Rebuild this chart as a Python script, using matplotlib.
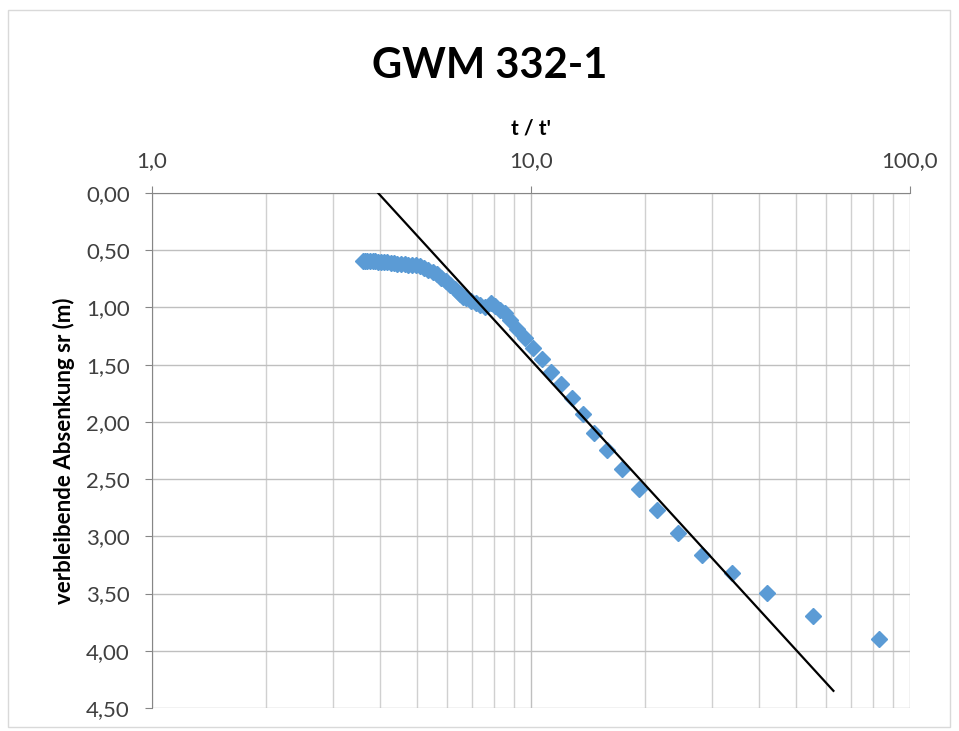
import matplotlib.pyplot as plt
from matplotlib.patches import Rectangle
from matplotlib.ticker import FixedLocator, LogLocator, NullFormatter

plt.rcParams['font.family'] = ['Lato', 'DejaVu Sans']

# t/t' and residual drawdown sr (m)
tt = [3.60, 3.65, 3.70, 3.76, 3.82, 3.88, 3.95, 4.02, 4.10, 4.18, 4.26,
      4.35, 4.44, 4.54, 4.64, 4.75, 4.86, 4.98, 5.10, 5.23, 5.36, 5.50,
      5.64, 5.79, 5.95, 6.12, 6.30, 6.48, 6.60, 6.75, 6.95, 7.15, 7.35,
      7.55, 7.85, 8.05, 8.30, 8.54, 8.81, 9.17, 9.65, 10.14, 10.67, 11.3,
      12.0, 12.8, 13.7, 14.7, 15.9, 17.4, 19.3, 21.5, 24.4, 28.2, 33.9,
      42.0, 55.6, 82.8]
sr = [0.59, 0.59, 0.59, 0.59, 0.59, 0.595, 0.60, 0.60, 0.60, 0.605, 0.61,
      0.615, 0.62, 0.62, 0.62, 0.625, 0.625, 0.63, 0.64, 0.655, 0.67, 0.69,
      0.71, 0.74, 0.77, 0.80, 0.84, 0.88, 0.91, 0.92, 0.94, 0.96, 0.98,
      1.00, 0.96, 0.99, 1.02, 1.05, 1.11, 1.19, 1.27, 1.357, 1.451, 1.561,
      1.669, 1.794, 1.931, 2.095, 2.246, 2.412, 2.587, 2.770, 2.974, 3.163, 3.318,
      3.498, 3.696, 3.895]

# straight-line fit
line_x = [3.95, 62.8]
line_y = [0.0, 4.35]

ytick_vals = [0.0, 0.5, 1.0, 1.5, 2.0, 2.5, 3.0, 3.5, 4.0, 4.5]
xtick_vals = [1, 10, 100]

fig = plt.figure(figsize=(9.59, 7.31), dpi=100)
fig.patches.append(Rectangle((8/959, 0.005), 942/959, 0.982, transform=fig.transFigure,
                             fill=False, edgecolor='#d9d9d9', lw=1))
ax = fig.add_axes([152/959, 23/731, 758/959, 515/731])

ax.set_xscale('log')
ax.set_xlim(1, 100)
ax.set_ylim(4.5, 0)

ax.plot(tt, sr, linestyle='none', marker='D', ms=8, color='#5b9bd5', zorder=3)
ax.plot(line_x, line_y, color='black', lw=1.6, zorder=4)

ax.xaxis.tick_top()
ax.xaxis.set_label_position('top')
ax.xaxis.set_major_locator(FixedLocator(xtick_vals))
ax.set_xticklabels(['1,0', '10,0', '100,0'])
ax.xaxis.set_minor_locator(LogLocator(base=10, subs=range(2, 10)))
ax.xaxis.set_minor_formatter(NullFormatter())
ax.set_yticks(ytick_vals)
ax.set_yticklabels([('%.2f' % v).replace('.', ',') for v in ytick_vals])

ax.grid(True, which='major', color='#bfbfbf', lw=1)
ax.grid(True, which='minor', axis='x', color='#d0d0d0', lw=1)
ax.set_axisbelow(True)

for s in ['right', 'bottom']:
    ax.spines[s].set_visible(False)
for s in ['left', 'top']:
    ax.spines[s].set_color('#868686')
ax.tick_params(axis='both', which='major', color='#868686', length=5,
               labelsize=16, labelcolor='#404040', pad=11)
ax.tick_params(axis='x', which='minor', length=0)

ax.set_xlabel("t / t'", fontsize=15, fontweight='bold', labelpad=12)
ax.set_ylabel('verbleibende Absenkung sr (m)', fontsize=16, fontweight='bold', labelpad=8)
fig.text(0.511, 0.91, 'GWM 332-1', ha='center', va='center', fontsize=30, fontweight='bold')

fig.savefig('out.png', dpi=100)
